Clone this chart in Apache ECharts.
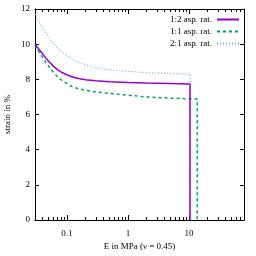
<!DOCTYPE html>
<html><head><meta charset="utf-8">
<script src="https://cdn.jsdelivr.net/npm/echarts@6/dist/echarts.min.js"></script>
<style>html,body{margin:0;padding:0;background:#fff}#c{width:256px;height:256px}</style>
</head><body><div id="c"></div>
<script>
// Data
const seriesNames = ["1:2 asp. rat.", "1:1 asp. rat.", "2:1 asp. rat."];
const xPurple = [0.03, 0.035, 0.04, 0.045, 0.05, 0.06, 0.07, 0.08, 0.1, 0.12, 0.15, 0.2, 0.3, 0.5, 1, 2, 5, 10.4, 10.4];
const yPurple = [10.0, 9.7, 9.45, 9.22, 9.03, 8.75, 8.55, 8.42, 8.26, 8.15, 8.06, 7.98, 7.92, 7.86, 7.82, 7.79, 7.76, 7.74, 0];
const xGreen = [0.03, 0.035, 0.04, 0.045, 0.05, 0.06, 0.07, 0.08, 0.1, 0.12, 0.15, 0.2, 0.3, 0.5, 1, 2, 5, 13.7, 13.7];
const yGreen = [9.95, 9.55, 9.25, 8.98, 8.76, 8.4, 8.15, 7.98, 7.75, 7.6, 7.48, 7.38, 7.28, 7.2, 7.1, 7.0, 6.93, 6.88, 0];
const xBlue = [0.03, 0.035, 0.04, 0.045, 0.05, 0.06, 0.07, 0.08, 0.1, 0.12, 0.15, 0.2, 0.3, 0.5, 1, 2, 5, 10.5, 10.5];
const yBlue = [11.7, 11.25, 10.92, 10.65, 10.42, 10.05, 9.8, 9.6, 9.35, 9.18, 9.0, 8.82, 8.66, 8.54, 8.45, 8.38, 8.33, 8.3, 0];
const xMajorTicks = [0.1, 1, 10];
const xMinorTicks = [0.04,0.05,0.06,0.07,0.08,0.09,0.2,0.3,0.4,0.5,0.6,0.7,0.8,0.9,2,3,4,5,6,7,8,9,20,30,40,50,60,70,80];
const xMin = 0.03, xMax = 80;
const yMin = 0, yMax = 12, yStep = 2;

const pairs = (xs, ys) => xs.map((x, i) => [x, ys[i]]);
const font = "Liberation Serif";
const txt = {fontFamily: font, fontSize: 9, color: "#000"};
const line = {show: true, lineStyle: {color: "#000", width: 1}};

function xAx(pos, major, labels) {
  return {
    type: "log", logBase: 10, min: xMin, max: xMax, position: pos, gridIndex: 0,
    axisLine: line, splitLine: {show: false},
    axisTick: {show: true, inside: true, length: major ? 5 : 3, lineStyle: {color: "#000", width: 1},
      customValues: major ? xMajorTicks : xMinorTicks},
    axisLabel: labels ? Object.assign({show: true, margin: 9, customValues: xMajorTicks,
      formatter: v => String(+v.toPrecision(3))}, txt) : {show: false},
    name: labels ? "E in MPa (ν = 0.45)" : "", nameLocation: "middle", nameGap: 22, nameMoveOverlap: false,
    nameTextStyle: txt
  };
}
function yAx(pos, labels) {
  return {
    type: "value", min: yMin, max: yMax, interval: yStep, position: pos,
    axisLine: line, splitLine: {show: false},
    axisTick: {show: true, inside: true, length: 4, lineStyle: {color: "#000", width: 1}},
    axisLabel: labels ? Object.assign({show: true, margin: 5}, txt) : {show: false},
    name: labels ? "strain in %" : "", nameLocation: "middle", nameGap: 23, nameRotate: 90, nameMoveOverlap: false,
    nameTextStyle: txt
  };
}

const chart = echarts.init(document.getElementById("c"), null, {renderer: "canvas"});
chart.setOption({
  animation: false,
  backgroundColor: "#fff",
  grid: {left: 35, right: 12, top: 9, bottom: 36, containLabel: false, outerBoundsMode: "none"},
  xAxis: [xAx("bottom", true, true), xAx("bottom", false, false), xAx("top", true, false), xAx("top", false, false)],
  yAxis: [yAx("left", true), yAx("right", false)],
  legend: {
    orient: "vertical", right: 16, top: 15, align: "right", padding: 0,
    itemWidth: 22, itemHeight: 8, itemGap: 3,
    itemStyle: {opacity: 0},
    textStyle: {fontFamily: font, fontSize: 9, color: "#000"},
    data: seriesNames
  },
  series: [
    {name: seriesNames[0], type: "line", data: pairs(xPurple, yPurple), showSymbol: false, symbol: "none",
      lineStyle: {color: "#9400d3", width: 1.5}, itemStyle: {color: "#9400d3"}, z: 3},
    {name: seriesNames[1], type: "line", data: pairs(xGreen, yGreen), showSymbol: false, symbol: "none",
      lineStyle: {color: "#009e73", width: 1.5, type: [3, 3]}, itemStyle: {color: "#009e73"}, z: 2},
    {name: seriesNames[2], type: "line", data: pairs(xBlue, yBlue), showSymbol: false, symbol: "none",
      lineStyle: {color: "#56b4e9", width: 1.2, type: [1, 2]}, itemStyle: {color: "#56b4e9"}, z: 1}
  ]
});
</script></body></html>
